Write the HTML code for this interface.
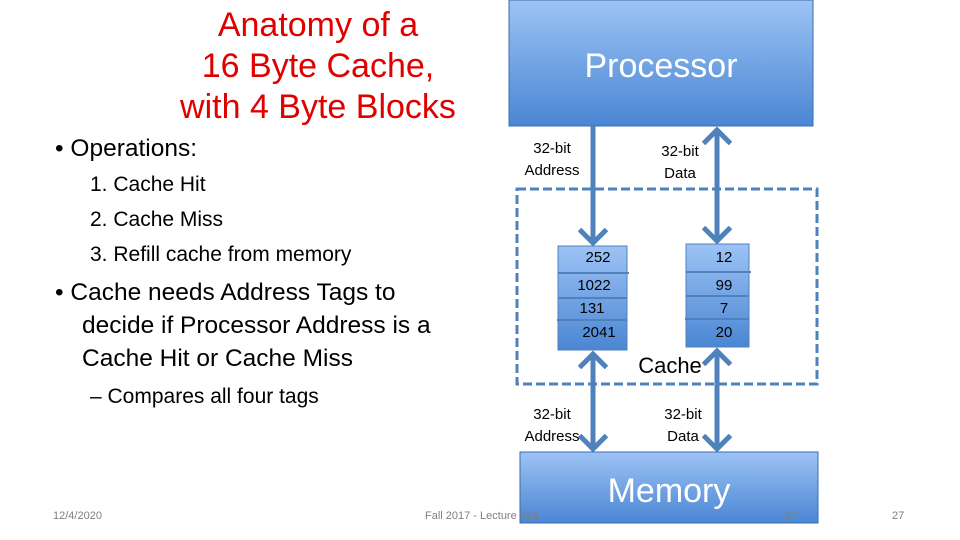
<!DOCTYPE html>
<html><head><meta charset="utf-8"><style>
body{margin:0;background:#fff}
svg{display:block;font-family:"Liberation Sans",sans-serif}
</style></head><body>
<svg width="960" height="540" viewBox="0 0 960 540">
<defs>
<linearGradient id="g" x1="0" y1="0" x2="0" y2="1">
<stop offset="0" stop-color="#9dc3f5"/><stop offset="1" stop-color="#4a86d3"/>
</linearGradient>
<marker id="ah" markerWidth="5" markerHeight="6" refX="3" refY="3" orient="auto-start-reverse" markerUnits="strokeWidth">
<path d="M0.3,0.3 L3,3 L0.3,5.7" fill="none" stroke="#4f81bd" stroke-width="1"/>
</marker>
</defs>
<g fill="#e00000" font-size="34" text-anchor="middle">
<text x="318" y="36">Anatomy of a</text>
<text x="318" y="77">16 Byte Cache,</text>
<text x="318" y="118">with 4 Byte Blocks</text>
</g>
<g fill="#000" font-size="24.5">
<text x="55" y="156">• Operations:</text>
<text x="55" y="300">• Cache needs Address Tags to</text>
<text x="82" y="333">decide if Processor Address is a</text>
<text x="82" y="366">Cache Hit or Cache Miss</text>
</g>
<g fill="#000" font-size="21">
<text x="90" y="191">1.  Cache Hit</text>
<text x="90" y="226">2.  Cache Miss</text>
<text x="90" y="261">3.  Refill cache from memory</text>
<text x="90" y="403">– Compares all four tags</text>
</g>
<rect x="509" y="0" width="304" height="126" fill="url(#g)" stroke="#3a6db0"/>
<text x="661" y="77" fill="#fff" font-size="34" text-anchor="middle">Processor</text>
<rect x="517" y="189" width="300" height="195" fill="none" stroke="#4f81bd" stroke-width="3" stroke-dasharray="9,4"/>
<rect x="558" y="246" width="69" height="104" fill="url(#g)" stroke="#4f81bd"/>
<rect x="686" y="244" width="63" height="103" fill="url(#g)" stroke="#4f81bd"/>
<g stroke="#4f81bd" stroke-width="2">
<line x1="558" y1="273" x2="629" y2="273"/><line x1="558" y1="298" x2="627" y2="298"/><line x1="557" y1="320" x2="627" y2="320"/>
<line x1="686" y1="272" x2="751" y2="272"/><line x1="686" y1="296" x2="749" y2="296"/><line x1="685" y1="319" x2="749" y2="319"/>
</g>
<g font-size="15" fill="#000" text-anchor="middle">
<text x="598" y="262">252</text><text x="594" y="290">1022</text><text x="592" y="313">131</text><text x="599" y="337">2041</text>
<text x="724" y="262">12</text><text x="724" y="290">99</text><text x="724" y="313">7</text><text x="724" y="337">20</text>
<text x="552" y="153">32-bit</text><text x="552" y="175">Address</text>
<text x="680" y="156">32-bit</text><text x="680" y="178">Data</text>
<text x="552" y="419">32-bit</text><text x="552" y="441">Address</text>
<text x="683" y="419">32-bit</text><text x="683" y="441">Data</text>
</g>
<text x="670" y="373" font-size="22" fill="#000" text-anchor="middle">Cache</text>
<g stroke="#4f81bd" stroke-width="5" fill="none">
<line x1="593" y1="126" x2="593" y2="243" marker-end="url(#ah)"/>
<line x1="717" y1="130" x2="717" y2="241" marker-start="url(#ah)" marker-end="url(#ah)"/>
<line x1="593" y1="354" x2="593" y2="449" marker-start="url(#ah)" marker-end="url(#ah)"/>
<line x1="717" y1="351" x2="717" y2="449" marker-start="url(#ah)" marker-end="url(#ah)"/>
</g>
<rect x="520" y="452" width="298" height="71" fill="url(#g)" stroke="#3a6db0"/>
<text x="669" y="502" fill="#fff" font-size="34" text-anchor="middle">Memory</text>
<g font-size="11" fill="#7f7f7f">
<text x="53" y="519">12/4/2020</text>
<text x="425" y="519">Fall 2017 - Lecture #14</text>
<text x="785" y="519">27</text>
<text x="892" y="519">27</text>
</g>
</svg>
</body></html>
